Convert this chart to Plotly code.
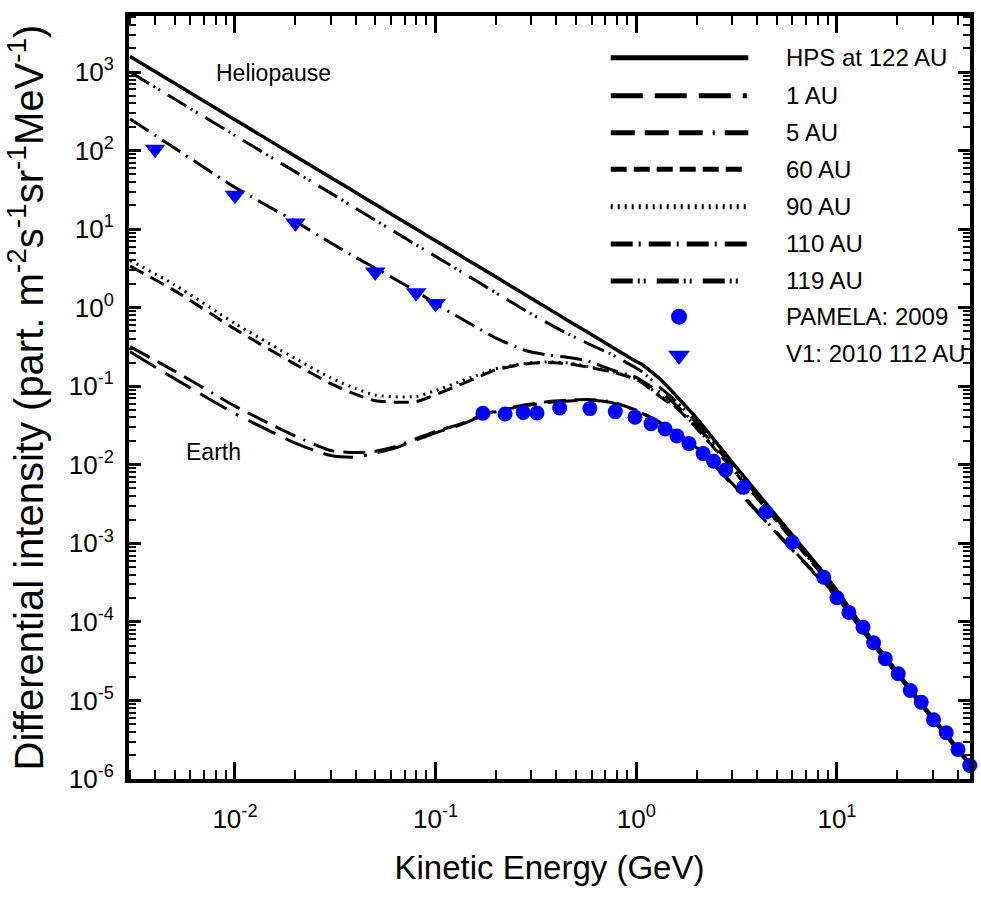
import plotly.graph_objects as go

# ---------------------------------------------------------------------------
# Electron spectra: modelled differential intensity vs kinetic energy
# ---------------------------------------------------------------------------

# Kinetic energy grid (GeV) shared by all model spectra
energy_gev = [0.003, 0.005, 0.01, 0.02, 0.03, 0.04, 0.05, 0.065, 0.08, 0.1,
              0.13, 0.16, 0.2, 0.28, 0.36, 0.46, 0.58, 0.75, 1.0, 1.06,
              1.33, 1.6, 2.0, 3.0, 5.0, 8.6, 10, 15, 20, 30, 46]

# Differential intensity (part. m^-2 s^-1 sr^-1 MeV^-1) for each model curve
hps_122au = [1578, 718, 247, 84.9, 45.5, 29.2, 20.7, 13.8, 10.0, 7.13,
             4.75, 3.46, 2.45, 1.46, 0.993, 0.679, 0.477, 0.32, 0.206, 0.192,
             0.12, 0.073, 0.039, 0.0108, 0.00222, 4.17e-4, 2.5e-4, 5.9e-5,
             2.3e-5, 6.1e-6, 1.58e-6]
au_1 = [0.275, 0.125, 0.0448, 0.0189, 0.0131, 0.0125, 0.0141, 0.0168, 0.0207,
        0.0256, 0.0316, 0.039, 0.0473, 0.0566, 0.062, 0.065, 0.0664, 0.062,
        0.0486, 0.0456, 0.0333, 0.025, 0.0164, 0.0056, 0.00134, 3.1e-4,
        2.03e-4, 5.3e-5, 2.12e-5, 5.7e-6, 1.49e-6]
au_5 = [0.319, 0.156, 0.0558, 0.0232, 0.0152, 0.0143, 0.0149, 0.0175, 0.0215,
        0.0265, 0.0325, 0.040, 0.0485, 0.058, 0.0635, 0.0665, 0.0678, 0.0634,
        0.0497, 0.0466, 0.034, 0.0255, 0.0168, 0.0058, 0.00138, 3.2e-4,
        2.08e-4, 5.35e-5, 2.14e-5, 5.75e-6, 1.5e-6]
au_60 = [3.38, 1.65, 0.533, 0.19, 0.108, 0.0788, 0.0654, 0.0624, 0.0637,
         0.078, 0.103, 0.128, 0.162, 0.192, 0.201, 0.194, 0.174, 0.153, 0.122,
         0.112, 0.072, 0.052, 0.029, 0.0089, 0.00193, 3.75e-4, 2.25e-4, 5.5e-5,
         2.2e-5, 5.9e-6, 1.53e-6]
au_90 = [4.0, 1.96, 0.63, 0.225, 0.128, 0.093, 0.077, 0.073, 0.074, 0.088,
         0.113, 0.137, 0.167, 0.195, 0.204, 0.197, 0.177, 0.155, 0.124, 0.114,
         0.074, 0.053, 0.0295, 0.009, 0.00195, 3.8e-4, 2.27e-4, 5.5e-5, 2.2e-5,
         5.9e-6, 1.53e-6]
au_110 = [253, 108, 34, 12.5, 6.7, 4.35, 3.2, 2.19, 1.62, 1.12, 0.76, 0.56,
          0.41, 0.285, 0.25, 0.232, 0.208, 0.162, 0.13, 0.118, 0.082, 0.056,
          0.0315, 0.0097, 0.00206, 3.9e-4, 2.3e-4, 5.6e-5, 2.22e-5, 5.95e-6,
          1.54e-6]
au_119 = [1000, 453, 156, 53.5, 28.7, 18.4, 13.0, 8.7, 6.3, 4.5, 3.0, 2.18,
          1.54, 0.92, 0.64, 0.46, 0.345, 0.255, 0.17, 0.155, 0.094, 0.062,
          0.034, 0.0103, 0.00212, 4.0e-4, 2.38e-4, 5.75e-5, 2.25e-5, 6.0e-6,
          1.55e-6]

# PAMELA 2009 observations
pamela_e = [0.172, 0.222, 0.273, 0.320, 0.415, 0.587, 0.786, 0.985, 1.184,
            1.392, 1.595, 1.83, 2.152, 2.43, 2.786, 3.424, 4.406, 5.99, 8.58,
            10.0, 11.47, 13.48, 15.22, 17.41, 20.2, 23.19, 26.3, 30.29, 35.04,
            40.09, 45.9]
pamela_i = [0.0452, 0.0444, 0.0462, 0.0457, 0.053, 0.0519, 0.0475, 0.0404,
            0.0334, 0.0285, 0.0232, 0.0186, 0.01387, 0.0111, 0.0086, 0.00517,
            0.00249, 0.00103, 3.71e-4, 2.03e-4, 1.32e-4, 8.57e-5, 5.42e-5,
            3.40e-5, 2.19e-5, 1.34e-5, 9.51e-6, 5.68e-6, 3.88e-6, 2.38e-6,
            1.49e-6]

# Voyager 1 observations, 2010 at 112 AU
v1_e = [0.004, 0.01, 0.02, 0.05, 0.08, 0.1]
v1_i = [104, 27, 12, 2.85, 1.55, 1.13]

# Axis tick values and labels
x_tick_vals = [0.01, 0.1, 1, 10]
x_tick_text = ["10<sup>-2</sup>", "10<sup>-1</sup>", "10<sup>0</sup>", "10<sup>1</sup>"]
y_tick_vals = [1e-6, 1e-5, 1e-4, 1e-3, 1e-2, 1e-1, 1, 10, 100, 1000]
y_tick_text = ["10<sup>-6</sup>", "10<sup>-5</sup>", "10<sup>-4</sup>", "10<sup>-3</sup>",
               "10<sup>-2</sup>", "10<sup>-1</sup>", "10<sup>0</sup>", "10<sup>1</sup>",
               "10<sup>2</sup>", "10<sup>3</sup>"]

legend_names = ["HPS at 122 AU", "1 AU", "5 AU", "60 AU", "90 AU", "110 AU",
                "119 AU", "PAMELA: 2009", "V1: 2010 112 AU"]

FONT = "Liberation Sans, Arial, Helvetica, sans-serif"
BLUE = "#0000ff"

# (values, dash pattern on the plot, dash pattern in the key, line width)
curves = [
    (au_1, "30px,11px,30px,11px,30px,11px,3px,11px",
     "32px,12px,32px,12px,32px,12px,4px,12px", 3),
    (au_5, "22px,9px,22px,9px,22px,9px,2px,9px",
     "24px,10px,24px,10px,24px,10px,2px,10px", 3),
    (au_60, "15px,8px", "16px,7px", 3),
    (au_90, "2px,5px", "2px,5px", 3),
    (au_110, "22px,7px,2px,7px", "22px,6px,2px,8px", 3),
    (au_119, "22px,5px,2px,4px,2px,9px", "22px,5px,2px,4px,2px,11px", 3),
    (hps_122au, "solid", "solid", 3.5),
]

fig = go.Figure()

for vals, dash, _, width in curves:
    fig.add_trace(go.Scatter(
        x=energy_gev, y=vals, mode="lines",
        line=dict(color="black", width=width, dash=dash,
                  shape="spline", smoothing=0.6),
        showlegend=False, hoverinfo="skip"))

fig.add_trace(go.Scatter(
    x=pamela_e, y=pamela_i, mode="markers", cliponaxis=False,
    marker=dict(symbol="circle", size=15, color=BLUE, line=dict(width=0)),
    showlegend=False))
fig.add_trace(go.Scatter(
    x=v1_e, y=v1_i, mode="markers", cliponaxis=False,
    marker=dict(symbol="triangle-down", size=18, color=BLUE, line=dict(width=0)),
    showlegend=False))

# ---------------------------------------------------------------------------
# Key in the upper right corner (paper coordinates)
# ---------------------------------------------------------------------------
key_rows = [0.9453, 0.8955, 0.8470, 0.7991, 0.7501, 0.7012, 0.6527, 0.6059, 0.5579]
key_line_x0, key_line_x1 = 0.5728, 0.7364
key_text_x = 0.7788

key_order = [hps_122au, au_1, au_5, au_60, au_90, au_110, au_119]
key_dash = {id(c[0]): c[2] for c in curves}
for row, vals in zip(key_rows[:7], key_order):
    fig.add_shape(type="line", xref="paper", yref="paper",
                  x0=key_line_x0, x1=key_line_x1, y0=row, y1=row,
                  line=dict(color="black", width=5, dash=key_dash[id(vals)]))

# marker symbols of the key, drawn on an overlay axis spanning [0, 1]
fig.add_trace(go.Scatter(
    x=[0.654], y=[key_rows[7]], xaxis="x2", yaxis="y2", mode="markers",
    marker=dict(symbol="circle", size=16, color=BLUE), showlegend=False,
    cliponaxis=False))
fig.add_trace(go.Scatter(
    x=[0.654], y=[key_rows[8] - 0.003], xaxis="x2", yaxis="y2", mode="markers",
    marker=dict(symbol="triangle-down", size=19, color=BLUE), showlegend=False,
    cliponaxis=False))

for row, name in zip(key_rows, legend_names):
    fig.add_annotation(x=key_text_x, y=row, xref="paper", yref="paper",
                       text=name, showarrow=False, xanchor="left",
                       yanchor="middle",
                       font=dict(family=FONT, size=24, color="black"))

fig.add_annotation(x=0.1724, y=0.9253, xref="paper", yref="paper",
                   text="Heliopause", showarrow=False,
                   xanchor="center", yanchor="middle",
                   font=dict(family=FONT, size=23, color="black"))
fig.add_annotation(x=0.0999, y=0.4286, xref="paper", yref="paper",
                   text="Earth", showarrow=False,
                   xanchor="center", yanchor="middle",
                   font=dict(family=FONT, size=23, color="black"))

# ---------------------------------------------------------------------------
# Axes
# ---------------------------------------------------------------------------
x_minor = [k * 10.0 ** d for d in range(-3, 2) for k in range(2, 10)]
y_minor = [k * 10.0 ** d for d in range(-6, 4) for k in range(2, 10)]

fig.update_xaxes(
    type="log", range=[-2.528, 1.663],
    tickvals=x_tick_vals, ticktext=x_tick_text,
    ticks="inside", ticklen=17, tickwidth=2.5, tickcolor="black",
    showline=True, linewidth=4, linecolor="black", mirror="allticks",
    showgrid=False, zeroline=False,
    minor=dict(tickvals=x_minor, ticks="inside", ticklen=9, tickwidth=2,
               tickcolor="black", showgrid=False),
    tickfont=dict(family=FONT, size=26, color="black"),
    ticklabelstandoff=14,
    title=dict(text="Kinetic Energy (GeV)",
               font=dict(family=FONT, size=33, color="black"), standoff=24),
)
fig.update_yaxes(
    type="log", range=[-6, 3.713],
    tickvals=y_tick_vals, ticktext=y_tick_text,
    ticks="inside", ticklen=12, tickwidth=2.5, tickcolor="black",
    showline=True, linewidth=4, linecolor="black", mirror="allticks",
    showgrid=False, zeroline=False,
    minor=dict(tickvals=y_minor, ticks="inside", ticklen=7, tickwidth=2,
               tickcolor="black", showgrid=False),
    tickfont=dict(family=FONT, size=26, color="black"),
    ticklabelstandoff=6,
    title=dict(text="Differential intensity (part. m<sup>-2</sup>s<sup>-1</sup>"
                    "sr<sup>-1</sup>MeV<sup>-1</sup>)",
               font=dict(family=FONT, size=40, color="black"), standoff=14),
)

fig.update_layout(
    width=981, height=900,
    margin=dict(l=129, r=11, t=16, b=121, autoexpand=False),
    paper_bgcolor="white", plot_bgcolor="white",
    xaxis2=dict(range=[0, 1], overlaying="x", visible=False, anchor="y2"),
    yaxis2=dict(range=[0, 1], overlaying="y", visible=False, anchor="x2"),
    showlegend=False,
)

fig.write_html("out.html")
